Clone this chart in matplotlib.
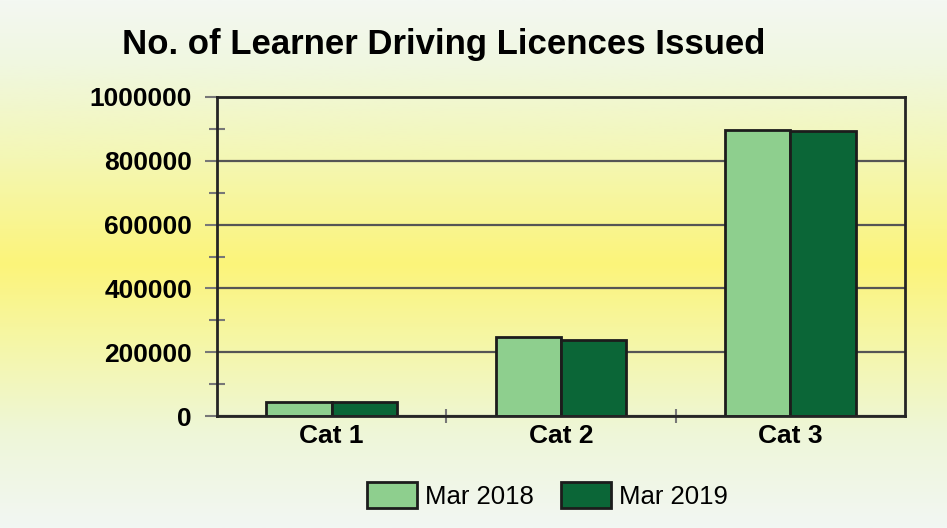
import matplotlib
matplotlib.use("Agg")
import matplotlib.pyplot as plt
import numpy as np
from matplotlib.colors import LinearSegmentedColormap

plt.rcParams['font.family'] = ['Liberation Sans', 'DejaVu Sans']

# data
categorias = ["Cat 1", "Cat 2", "Cat 3"]
series = ["Mar 2018", "Mar 2019"]
mar_2018 = [44000, 248000, 897000]
mar_2019 = [43000, 238000, 893000]
y_ticks = [0, 200000, 400000, 600000, 800000, 1000000]

cores = ["#8ecf8e", "#0b6637"]
borda = "#1c1c1c"

fig = plt.figure(figsize=(9.47, 5.28), dpi=100)

# fundo em degradê amarelo (vertical)
bg = fig.add_axes([0, 0, 1, 1], zorder=-10)
cmap = LinearSegmentedColormap.from_list(
    "fundo",
    [(0.0, "#f4f8f2"), (0.12, "#f0f7e0"), (0.3, "#f4f7b4"), (0.5, "#fcf47a"),
     (0.68, "#f4f7b0"), (0.82, "#eef6d8"), (1.0, "#f2f7f3")])
grad = np.linspace(0, 1, 256).reshape(-1, 1)
bg.imshow(grad, aspect="auto", cmap=cmap, extent=[0, 1, 0, 1])
bg.axis("off")

ax = fig.add_axes([0.2291, 0.2121, 0.7266, 0.6042])
ax.patch.set_alpha(0)

largura = 0.285
x = np.arange(len(categorias))
ax.bar(x - largura / 2, mar_2018, largura, color=cores[0], edgecolor=borda,
       linewidth=2, label=series[0], zorder=3)
ax.bar(x + largura / 2, mar_2019, largura, color=cores[1], edgecolor=borda,
       linewidth=2, label=series[1], zorder=3)

ax.set_xlim(-0.5, 2.5)
ax.set_ylim(0, 1000000)
ax.set_yticks(y_ticks)
ax.set_yticklabels([str(v) for v in y_ticks], fontweight="bold", fontsize=19)
ax.set_yticks(np.arange(100000, 1000000, 200000), minor=True)
ax.yaxis.grid(True, color="#555555", linewidth=1.6, zorder=1)

# rótulos das categorias e marcas entre elas
ax.set_xticks([0.5, 1.5])
ax.set_xticklabels([])
ax.set_xticks(x, minor=True)
ax.set_xticklabels(categorias, minor=True, fontweight="bold", fontsize=19)
ax.tick_params(axis="x", which="minor", length=0, pad=6)
ax.tick_params(axis="x", which="major", direction="inout", length=10,
               width=1.5, color="#777777")
ax.tick_params(axis="y", which="major", direction="out", length=9,
               width=1.5, color="#777777", pad=9)
ax.tick_params(axis="y", which="minor", direction="inout", length=12,
               width=1.5, color="#777777")

for lado in ["left", "bottom", "right", "top"]:
    ax.spines[lado].set_color("#252525")
    ax.spines[lado].set_linewidth(2)
    ax.spines[lado].set_zorder(4)

fig.text(0.469, 0.915, "No. of Learner Driving Licences Issued",
         ha="center", va="center", fontsize=25, fontweight="bold")

fig.legend(loc="center", bbox_to_anchor=(0.578, 0.061), ncol=2, frameon=False,
           fontsize=18.5, handlelength=1.95, handleheight=1.17,
           handletextpad=0.3, columnspacing=1.05)

fig.savefig("out.png", dpi=100)
